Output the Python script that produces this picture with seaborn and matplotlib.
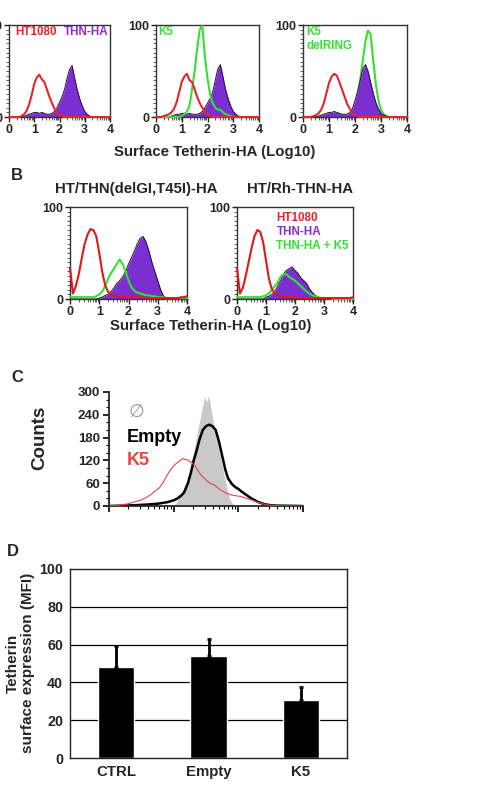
import numpy as np
import pandas as pd
import matplotlib
matplotlib.use("Agg")
import matplotlib.pyplot as plt
import seaborn as sns
from matplotlib.ticker import MultipleLocator, FixedLocator

sns.set_style("ticks")
plt.rcParams['font.family'] = ['Liberation Sans', 'DejaVu Sans']
plt.rcParams['font.weight'] = 'bold'
plt.rcParams['axes.labelweight'] = 'bold'

RED = '#e8232b'
PURPLE = '#7b2fd0'
EDGE = '#241038'
GREEN = '#33e033'

# ---- Panel A / B data: histogram heights (% of max) at log10 = 0.0, 0.1, ... 4.0
x_hist = np.round(np.arange(0, 4.01, 0.1), 1)

a1_red = [0, 0, 0, 0, 0, 1, 3, 7, 14, 24, 36, 43, 46, 41, 38, 30, 22, 15, 9, 5, 2, 1,
          0, 0, 0, 0, 0, 0, 0, 0, 0, 0, 0, 0, 0, 0, 0, 0, 0, 0, 0]
a1_thn = [0, 0, 0, 0, 0, 0, 1, 2, 3, 4, 5, 5, 4, 5, 4, 3, 3, 4, 6, 10, 16, 22, 30, 42, 52, 56,
          42, 30, 20, 12, 6, 3, 1, 0, 0, 0, 0, 0, 0, 0, 0]

a2_red = [0, 0, 0, 1, 2, 3, 5, 9, 16, 27, 38, 44, 47, 40, 38, 30, 22, 15, 10, 6, 3, 1,
          0, 0, 0, 0, 0, 0, 0, 0, 0, 0, 0, 0, 0, 0, 0, 0, 0, 0, 0]
a2_thn = [0, 0, 0, 0, 0, 0, 1, 2, 3, 3, 4, 4, 3, 4, 3, 3, 3, 4, 6, 10, 15, 20, 27, 40, 52, 57,
          44, 30, 20, 12, 6, 3, 1, 0, 0, 0, 0, 0, 0, 0, 0]
a2_k5 = [0, 0, 0, 0, 0, 0, 0, 0, 0, 0, 1, 3, 6, 12, 30, 50, 75, 95, 99, 65, 42, 25, 15, 10,
         8, 8, 5, 3, 2, 1, 0, 0, 0, 0, 0, 0, 0, 0, 0, 0, 0]

a3_red = [0, 0, 0, 0, 1, 2, 4, 8, 15, 26, 37, 44, 47, 45, 38, 30, 22, 14, 9, 5, 2, 1,
          0, 0, 0, 0, 0, 0, 0, 0, 0, 0, 0, 0, 0, 0, 0, 0, 0, 0, 0]
a3_thn = [0, 0, 0, 0, 0, 0, 1, 2, 3, 4, 5, 5, 6, 5, 4, 3, 3, 3, 5, 9, 18, 28, 40, 52, 57, 50,
          38, 26, 16, 9, 4, 2, 1, 0, 0, 0, 0, 0, 0, 0, 0]
a3_k5 = [0, 0, 0, 0, 0, 0, 0, 0, 0, 0, 0, 0, 1, 1, 1, 1, 1, 1, 1, 3, 8, 20, 40, 62, 82, 94,
         90, 62, 36, 18, 8, 3, 1, 0, 0, 0, 0, 0, 0, 0, 0]

b1_red = [34, 6, 14, 27, 44, 60, 70, 76, 75, 68, 50, 30, 15, 8, 5, 4, 3, 3, 2, 2, 2, 2, 2,
          2, 2, 2, 1, 1, 1, 1, 1, 1, 1, 1, 1, 1, 1, 1, 2, 2, 3]
b1_thn = [0, 0, 0, 0, 0, 0, 0, 0, 0, 0, 1, 2, 4, 5, 8, 12, 17, 20, 24, 30, 38, 45, 52, 60, 66,
          68, 62, 52, 40, 30, 20, 10, 3, 1, 0, 0, 0, 0, 0, 0, 0]
b1_k5 = [2, 2, 2, 2, 2, 2, 2, 2, 2, 3, 5, 8, 14, 22, 28, 33, 38, 43, 38, 30, 20, 13, 9, 7, 6,
         5, 4, 4, 3, 3, 2, 2, 2, 1, 1, 1, 1, 1, 1, 1, 1]

b2_red = [34, 6, 12, 25, 40, 55, 68, 75, 73, 62, 42, 22, 11, 6, 4, 3, 2, 2, 2, 2, 2, 1, 1,
          1, 1, 1, 1, 1, 1, 1, 1, 1, 1, 1, 1, 1, 1, 1, 1, 1, 2]
b2_thn = [0, 0, 0, 0, 0, 0, 0, 0, 0, 0, 2, 3, 5, 8, 14, 20, 27, 31, 33, 35, 31, 28, 23, 20, 17,
          11, 7, 4, 2, 1, 0, 0, 0, 0, 0, 0, 0, 0, 0, 0, 0]
b2_k5 = [2, 2, 2, 2, 2, 2, 2, 2, 2, 3, 4, 6, 10, 14, 18, 24, 27, 27, 24, 22, 20, 17, 14, 11, 8,
         6, 4, 3, 2, 1, 1, 1, 1, 0, 0, 0, 0, 0, 0, 0, 0]

# ---- Panel C data: counts vs log10 fluorescence (decades)
c_empty_vec_x = [1.00, 1.05, 1.10, 1.16, 1.22, 1.27, 1.32, 1.36, 1.40, 1.45, 1.48, 1.51, 1.53,
                 1.56, 1.60, 1.65, 1.71, 1.76, 1.80, 1.83, 1.86, 1.90, 1.94, 2.00]
c_empty_vec_y = [0, 10, 30, 48, 70, 105, 152, 190, 222, 266, 288, 272, 290, 276, 232, 187, 143,
                 100, 65, 42, 22, 8, 3, 0]

c_empty_x = [0.00, 0.40, 0.60, 0.75, 0.90, 1.00, 1.06, 1.12, 1.16, 1.22, 1.27, 1.31, 1.35, 1.40,
             1.45, 1.50, 1.55, 1.60, 1.65, 1.70, 1.76, 1.80, 1.84, 1.90, 1.95, 2.00, 2.05, 2.10,
             2.20, 2.30, 2.40, 2.50, 2.60, 3.00]
c_empty_y = [0, 2, 4, 6, 10, 15, 20, 28, 35, 60, 90, 120, 143, 175, 200, 210, 214, 210, 200, 170,
             125, 95, 73, 58, 50, 45, 38, 32, 20, 11, 5, 2, 1, 0]

c_k5_x = [0.00, 0.10, 0.20, 0.30, 0.40, 0.50, 0.55, 0.65, 0.70, 0.78, 0.83, 0.88, 0.93, 0.98,
          1.04, 1.10, 1.14, 1.18, 1.22, 1.27, 1.32, 1.37, 1.42, 1.48, 1.53, 1.58, 1.63, 1.68,
          1.73, 1.80, 1.89, 1.96, 2.04, 2.12, 2.20, 2.30, 2.40, 2.45, 2.55, 2.70, 3.00]
c_k5_y = [0, 1, 3, 6, 11, 16, 20, 30, 38, 48, 60, 75, 90, 102, 112, 120, 125, 122, 121, 115, 108,
          95, 82, 72, 64, 58, 55, 48, 42, 35, 29, 27, 25, 20, 16, 10, 5, 3, 1, 0, 0]

# ---- Panel D data
groups = ['CTRL', 'Empty', 'K5']
mfi = [48, 54, 30.5]
mfi_err = [11.5, 9, 7]

W, H = 498, 785
fig = plt.figure(figsize=(W / 100, H / 100), dpi=100)


def box(x0, y0, x1, y1):
    # pixel box -> figure fraction axes
    return fig.add_axes([x0 / W, 1 - y1 / H, (x1 - x0) / W, (y1 - y0) / H])


log_minor = [d + np.log10(k) for d in range(4) for k in range(2, 10)]
LEG = 8.4


def setup_hist(ax):
    ax.set_xlim(0, 4)
    ax.set_ylim(0, 100)
    ax.set_xticks([0, 1, 2, 3, 4])
    ax.set_yticks([0, 100])
    ax.xaxis.set_minor_locator(FixedLocator(log_minor))
    ax.yaxis.set_minor_locator(MultipleLocator(5))
    ax.tick_params(which='major', length=3.5, width=1, labelsize=9, pad=1.5, color='#222')
    ax.tick_params(which='minor', length=2, width=0.6, color='#444')
    for s in ax.spines.values():
        s.set_linewidth(1)
        s.set_color('#333')
    ax.set_xlabel('')
    ax.set_ylabel('')


def draw_filled(ax, y):
    ax.fill_between(x_hist, y, color=PURPLE, lw=0, zorder=2)
    sns.lineplot(x=x_hist, y=y, color=EDGE, lw=0.7, ax=ax, zorder=3)


def draw_line(ax, y, color, z=4):
    sns.lineplot(x=x_hist, y=y, color=color, lw=1.5, ax=ax, zorder=z, clip_on=False)


# ---- Panel A
ax1 = box(9, 25, 110, 117)
draw_filled(ax1, a1_thn)
draw_line(ax1, a1_red, RED)
setup_hist(ax1)
ax1.text(0.06, 0.92, 'HT1080', color=RED, fontsize=LEG, transform=ax1.transAxes, va='center')
ax1.text(0.54, 0.92, 'THN-HA', color='#8a2ed0', fontsize=LEG, transform=ax1.transAxes, va='center')

ax2 = box(156, 25, 259, 117)
draw_filled(ax2, a2_thn)
draw_line(ax2, a2_k5, GREEN)
draw_line(ax2, a2_red, RED)
setup_hist(ax2)
ax2.text(0.02, 0.92, 'K5', color=GREEN, fontsize=LEG, transform=ax2.transAxes, va='center')

ax3 = box(303, 25, 407, 117)
draw_line(ax3, a3_k5, GREEN, z=1)
draw_filled(ax3, a3_thn)
draw_line(ax3, a3_red, RED)
setup_hist(ax3)
ax3.text(0.03, 0.92, 'K5', color=GREEN, fontsize=LEG, transform=ax3.transAxes, va='center')
ax3.text(0.03, 0.77, 'delRING', color=GREEN, fontsize=LEG, transform=ax3.transAxes, va='center')

fig.text(215 / W, 1 - 152 / H, 'Surface Tetherin-HA (Log10)', ha='center', va='center', fontsize=10.8)

# ---- Panel B
fig.text(17 / W, 1 - 175 / H, 'B', ha='center', va='center', fontsize=12)
fig.text(136 / W, 1 - 189 / H, 'HT/THN(delGI,T45I)-HA', ha='center', va='center', fontsize=10.8)
fig.text(300 / W, 1 - 189 / H, 'HT/Rh-THN-HA', ha='center', va='center', fontsize=10.8)

bx1 = box(70, 207, 187, 299)
draw_filled(bx1, b1_thn)
draw_line(bx1, b1_k5, GREEN)
draw_line(bx1, b1_red, '#e01818')
setup_hist(bx1)

bx2 = box(237, 207, 353, 299)
draw_filled(bx2, b2_thn)
draw_line(bx2, b2_k5, GREEN)
draw_line(bx2, b2_red, '#e01818')
setup_hist(bx2)
bx2.text(0.34, 0.88, 'HT1080', color=RED, fontsize=LEG, transform=bx2.transAxes, va='center')
bx2.text(0.34, 0.73, 'THN-HA', color='#8a2ed0', fontsize=LEG, transform=bx2.transAxes, va='center')
bx2.text(0.34, 0.58, 'THN-HA + K5', color=GREEN, fontsize=LEG, transform=bx2.transAxes, va='center')

fig.text(211 / W, 1 - 326 / H, 'Surface Tetherin-HA (Log10)', ha='center', va='center', fontsize=10.8)

# ---- Panel C
fig.text(17 / W, 1 - 378 / H, 'C', ha='center', va='center', fontsize=12)
cx = box(109, 392, 303, 506)
cx.fill_between(c_empty_vec_x, c_empty_vec_y, color='#c9c9c9', lw=0, zorder=1)
sns.lineplot(x=c_k5_x, y=c_k5_y, color='#e04848', lw=0.8, ax=cx, zorder=3)
sns.lineplot(x=c_empty_x, y=c_empty_y, color='black', lw=1.8, ax=cx, zorder=2)
cx.set_xlim(0, 3)
cx.set_ylim(0, 300)
cx.set_xticks([0, 1, 2, 3])
cx.set_xticklabels([])
cx.xaxis.set_minor_locator(FixedLocator(log_minor[:24]))
cx.set_yticks([0, 60, 120, 180, 240, 300])
cx.yaxis.set_minor_locator(MultipleLocator(20))
cx.tick_params(which='major', length=4.5, width=1.2, labelsize=9.5, pad=2, color='black')
cx.tick_params(which='minor', length=2.5, width=0.8, color='black')
sns.despine(ax=cx)
for s in cx.spines.values():
    s.set_linewidth(1.3)
cx.set_xlabel('')
cx.set_ylabel('')
fig.text(40 / W, 1 - 438 / H, 'Counts', rotation=90, ha='center', va='center', fontsize=13.5)
cx.text(0.10, 0.83, '\u2205', color='#999999', fontsize=13, transform=cx.transAxes,
        va='center', family=['DejaVu Sans'], fontweight='normal')
cx.text(0.09, 0.60, 'Empty', color='black', fontsize=13, transform=cx.transAxes, va='center')
cx.text(0.09, 0.40, 'K5', color='#e84444', fontsize=13, transform=cx.transAxes, va='center')

# ---- Panel D
fig.text(13 / W, 1 - 552 / H, 'D', ha='center', va='center', fontsize=12)
dx = box(70, 569, 347, 758)
for g in [20, 40, 60, 80]:
    dx.axhline(g, color='black', lw=0.9, zorder=0)
df = pd.DataFrame({'group': groups, 'mfi': mfi})
sns.barplot(data=df, x='group', y='mfi', color='black', width=0.39, errorbar=None,
            saturation=1, ax=dx, zorder=2)
dx.errorbar(range(len(groups)), mfi, yerr=[[0] * len(groups), mfi_err], fmt='none',
            ecolor='black', elinewidth=2, capsize=1.5, capthick=2, zorder=3)
dx.set_ylim(0, 100)
dx.set_xlim(-0.5, 2.5)
dx.set_yticks([0, 20, 40, 60, 80, 100])
dx.tick_params(axis='y', length=0, labelsize=10.3, pad=5)
dx.tick_params(axis='x', length=0, labelsize=10.8, pad=5)
for s in dx.spines.values():
    s.set_visible(True)
    s.set_linewidth(1)
    s.set_color('#222')
dx.set_xlabel('')
dx.set_ylabel('')
fig.text(20 / W, 1 - 663 / H, 'Tetherin\nsurface expression (MFI)', rotation=90,
         ha='center', va='center', fontsize=11, multialignment='center', linespacing=1.1)

fig.savefig('out.png', dpi=100)
